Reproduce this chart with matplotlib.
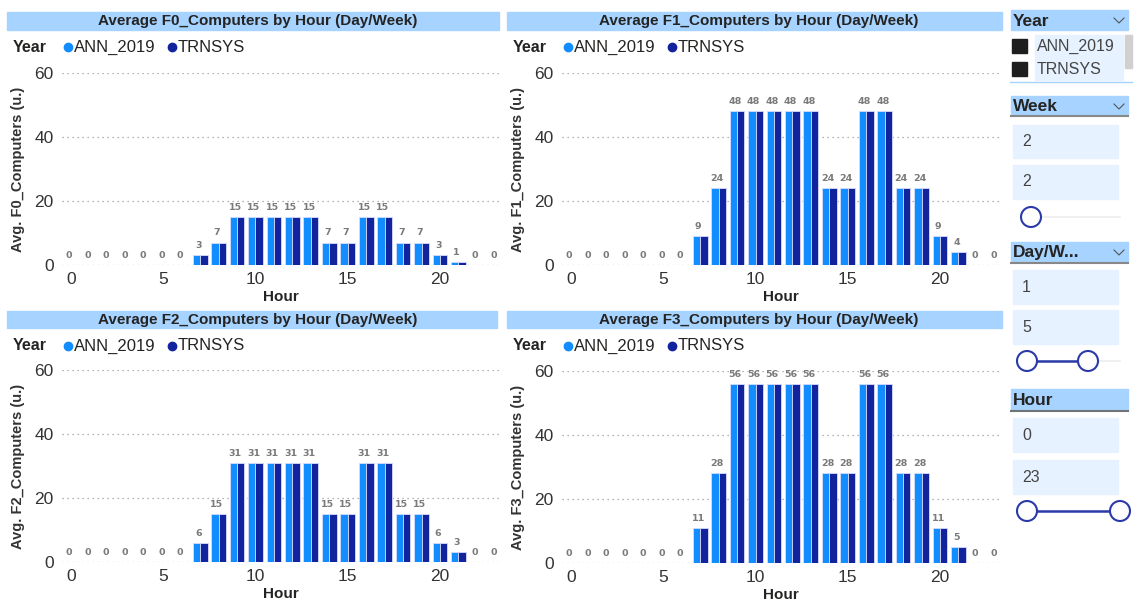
import numpy as np
import matplotlib.pyplot as plt
from matplotlib.patches import Rectangle, Circle

plt.rcParams['font.family'] = ['Liberation Sans', 'DejaVu Sans']

# %% data
hours = np.arange(24)
series = ['ANN_2019', 'TRNSYS']
f0 = [0, 0, 0, 0, 0, 0, 0, 3, 7, 15, 15, 15, 15, 15, 7, 7, 15, 15, 7, 7, 3, 1, 0, 0]
f1 = [0, 0, 0, 0, 0, 0, 0, 9, 24, 48, 48, 48, 48, 48, 24, 24, 48, 48, 24, 24, 9, 4, 0, 0]
f2 = [0, 0, 0, 0, 0, 0, 0, 6, 15, 31, 31, 31, 31, 31, 15, 15, 31, 31, 15, 15, 6, 3, 0, 0]
f3 = [0, 0, 0, 0, 0, 0, 0, 11, 28, 56, 56, 56, 56, 56, 28, 28, 56, 56, 28, 28, 11, 5, 0, 0]
panel_names = ['F0', 'F1', 'F2', 'F3']
panel_values = [f0, f1, f2, f3]
yticks = [0, 20, 40, 60]
xticks = [0, 5, 10, 15, 20]

# slicer contents
week_range = ['2', '2']
day_range = ['1', '5']
hour_range = ['0', '23']

c_ann = '#118DFF'
c_trn = '#12239E'
c_head = '#A6D3FF'
c_box = '#E6F2FF'
c_txt = '#252423'

W, H = 1134, 603
fig = plt.figure(figsize=(W / 100, H / 100), dpi=100)


def rect(x0, y0, x1, y1):
    return [x0 / W, 1 - y1 / H, (x1 - x0) / W, (y1 - y0) / H]


# overlay in pixel coordinates for headers, legends and slicers
ov = fig.add_axes([0, 0, 1, 1])
ov.set_xlim(0, W)
ov.set_ylim(H, 0)
ov.axis('off')

px_per_hour = 18.45
# (axes left, top, right, bottom, x pixel of hour 0)
boxes = [(62, 73, 500, 265, 71), (562, 73, 1000, 265, 571),
         (62, 370, 500, 562, 71), (562, 371, 1000, 563, 571)]
titles = [(7, 12, 499, 30, 258), (507, 12, 1002, 30, 759),
          (7, 311, 497, 328, 258), (507, 311, 1002, 328, 759)]
legend_y = [47, 47, 346, 346]

bw = 0.4
for name, vals, box, tb, ly in zip(panel_names, panel_values, boxes, titles, legend_y):
    x0, y0, x1, y1, zero = box
    ax = fig.add_axes(rect(x0, y0, x1, y1))
    vals = np.array(vals)
    ax.bar(hours - bw / 2, vals, bw, color=c_ann, edgecolor='#D6DCFF', linewidth=0.6, zorder=3)
    ax.bar(hours + bw / 2, vals, bw, color=c_trn, edgecolor='#D6DCFF', linewidth=0.6, zorder=3)
    for h, v in zip(hours, vals):
        ax.text(h - 0.1, v + 1.6, f'{v:.0f}', ha='center', va='bottom', fontsize=6.8,
                fontweight='bold', color='#7A7A7A', family='DejaVu Sans', clip_on=False)
    ax.set_xlim((x0 - zero) / px_per_hour, (x1 - zero) / px_per_hour)
    ax.set_ylim(0, 60)
    ax.set_xticks(xticks)
    ax.set_yticks(yticks)
    ax.tick_params(length=0, labelsize=12.5, labelcolor='#333333', pad=6)
    ax.tick_params(axis='x', pad=5)
    ax.grid(axis='y', linestyle=(0, (1, 3)), color='#9A9A9A', linewidth=0.9, zorder=0)
    for s in ax.spines.values():
        s.set_visible(False)
    ax.set_facecolor('none')
    ax.set_xlabel('Hour', fontsize=11, fontweight='bold', color=c_txt, labelpad=2)
    ax.set_ylabel(f'Avg. {name}_Computers (u.)', fontsize=10.5, fontweight='bold',
                  color='#333333', labelpad=7)

    # title bar
    tx0, ty0, tx1, ty1, tc = tb
    ov.add_patch(Rectangle((tx0, ty0), tx1 - tx0, ty1 - ty0, color=c_head, zorder=1))
    ov.text(tc, (ty0 + ty1) / 2 + 0.5, f'Average {name}_Computers by Hour (Day/Week)',
            ha='center', va='center', fontsize=11, fontweight='bold', color=c_txt, zorder=2)

    # legend
    lx = tx0 + 6
    ov.text(lx, ly, 'Year', ha='left', va='center', fontsize=11.5, fontweight='bold', color=c_txt)
    for off, s, c in [(55, series[0], c_ann), (159, series[1], c_trn)]:
        ov.plot(lx + off, ly, 'o', ms=6, color=c)
        ov.text(lx + off + 6, ly, s, ha='left', va='center', fontsize=12, color=c_txt)

# %% slicer panel
sx0, sx1 = 1011, 1128


def header(y0, y1, label, chevron=True, underline=None):
    ov.add_patch(Rectangle((sx0, y0), sx1 - sx0, y1 - y0, color=c_head, zorder=1))
    ov.text(sx0 + 2, (y0 + y1) / 2 + 1, label, ha='left', va='center', fontsize=12.5,
            fontweight='bold', color=c_txt, zorder=2)
    if chevron:
        ov.plot([sx1 - 14, sx1 - 9, sx1 - 4], [y0 + 8, y0 + 13, y0 + 8], color='#555555', lw=0.8)
    if underline:
        ov.plot([sx0, sx1], [y1 + 1, y1 + 1], color=underline, lw=1.5)


def value_box(y0, y1, label):
    ov.add_patch(Rectangle((1013, y0), 105, y1 - y0, color=c_box, zorder=1))
    ov.text(1022, (y0 + y1) / 2, label, ha='left', va='center', fontsize=11.5, color='#444444')


def slider(ya, xa, xb):
    ov.plot([1025, 1120], [ya, ya], color='#EEEEEE', lw=1.2, zorder=1)
    if xb > xa:
        ov.plot([xa, xb], [ya, ya], color='#2B3AA8', lw=1.8, zorder=2)
    for x in sorted({xa, xb}):
        ov.add_patch(Circle((x, ya), 10, facecolor='white', edgecolor='#2B3AA8', lw=1.5, zorder=3))


header(10, 30, 'Year')
for yy, s in [(46, series[0]), (69, series[1])]:
    ov.add_patch(Rectangle((1012, yy - 7), 15, 14, color='#1E1E1E'))
    ov.add_patch(Rectangle((1035, yy - 11), 88, 22, color=c_box, zorder=0))
    ov.text(1037, yy, s, ha='left', va='center', fontsize=11.5, color='#444444')
ov.add_patch(Rectangle((1125, 35), 7, 33, color='#D0D0D0'))
ov.plot([1010, 1132], [82, 82], color='#A6D3FF', lw=1)

header(96, 115, 'Week', underline='#888888')
value_box(125, 158, week_range[0])
value_box(165, 199, week_range[1])
slider(217, 1031, 1031)

header(242, 262, 'Day/W...', underline='#888888')
value_box(270, 304, day_range[0])
value_box(310, 344, day_range[1])
slider(361, 1027, 1088)

header(389, 410, 'Hour', chevron=False, underline='#6F7478')
value_box(418, 452, hour_range[0])
value_box(460, 494, hour_range[1])
slider(511, 1027, 1120)

fig.savefig('out.png', dpi=100)
